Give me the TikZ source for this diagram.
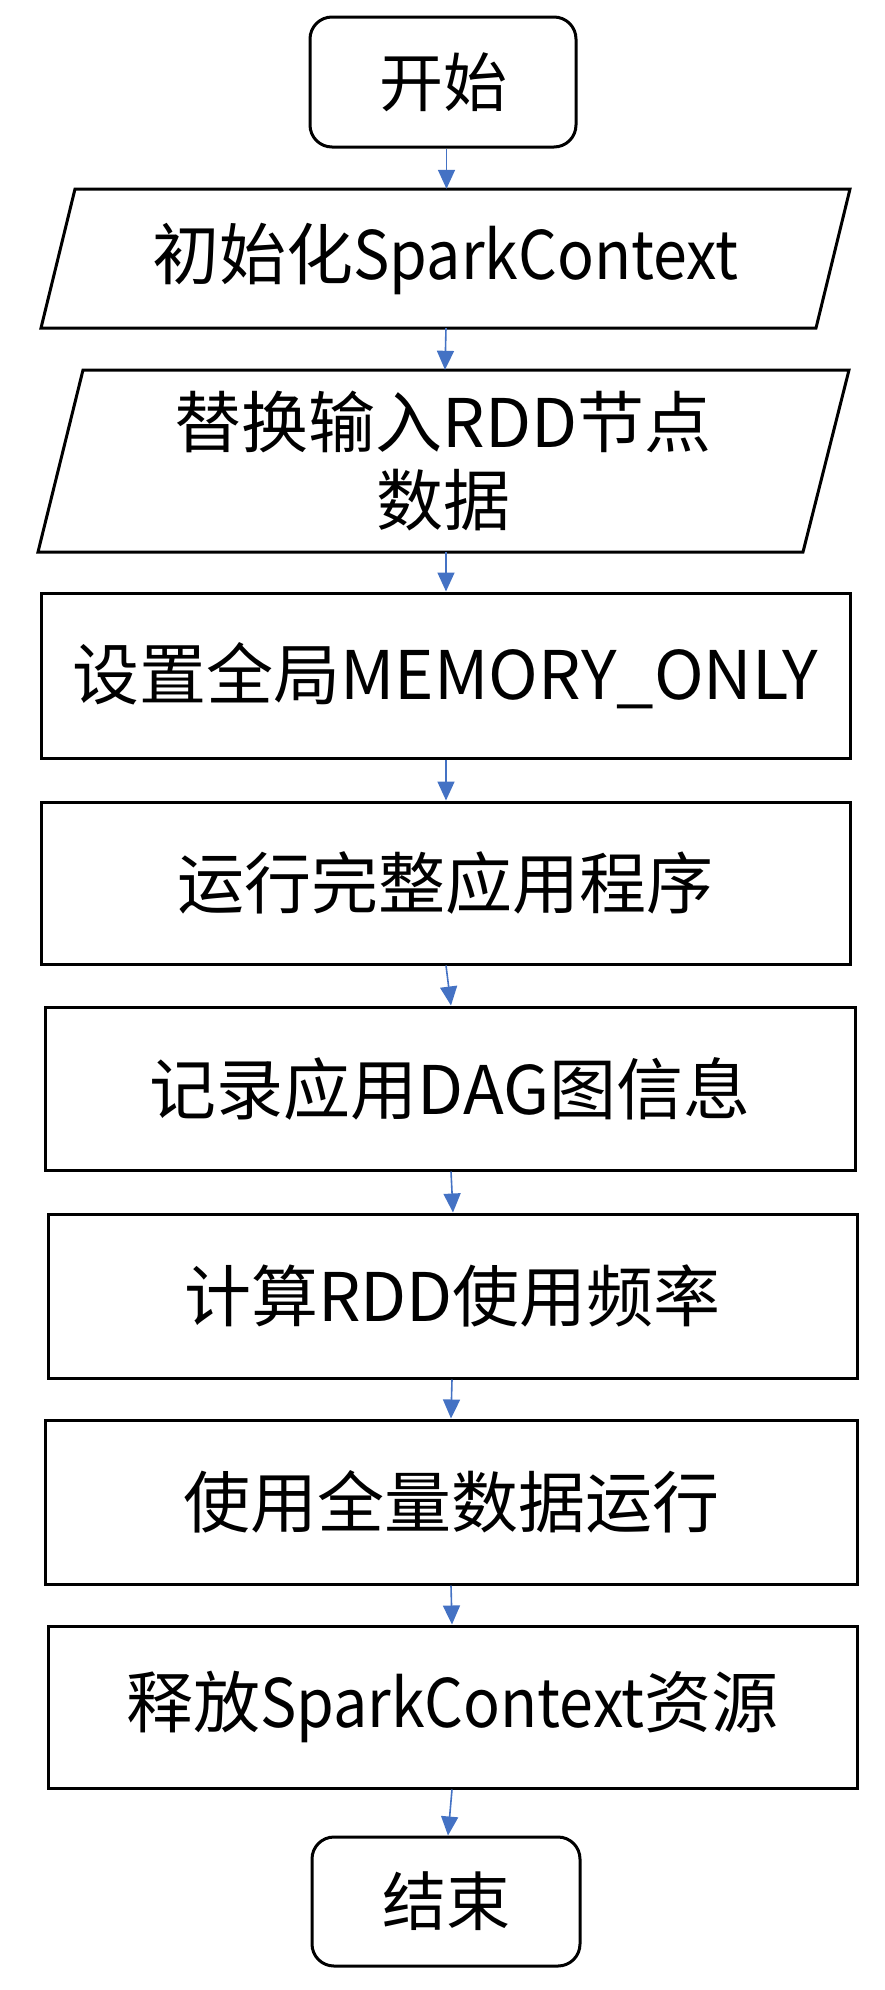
\documentclass[tikz,border=0pt]{standalone}
\usepackage{fontspec}
\setmainfont{Noto Sans CJK SC}
\newfontfamily\narrowlat{Noto Sans CJK SC}[FakeStretch=0.91]
\usetikzlibrary{arrows.meta}
\definecolor{arrowblue}{HTML}{4472C4}
\begin{document}
\begin{tikzpicture}[x=1pt,y=-1pt,
  shapeline/.style={draw=black,line width=3pt},
  box/.style={shapeline,inner sep=0pt,align=center,font=\fontsize{67}{78}\selectfont},
  term/.style={box,rounded corners=22pt,font=\fontsize{64}{76}\selectfont},
  ptext/.style={inner sep=0pt,align=center,font=\fontsize{67}{78}\selectfont},
  flow/.style={draw=arrowblue,line width=1.6pt,-{Triangle[length=19pt,width=17pt]}}]
\fill[white] (0,0) rectangle (884,1990);
\useasboundingbox (0,0) rectangle (884,1990);

% start
\node[term,minimum width=266pt,minimum height=130pt] (start) at (443,82) {开始};

% parallelogram 1
\draw[shapeline,line join=miter] (75,189) -- (850,189) -- (816,328) -- (41,328) -- cycle;
\node[ptext,minimum width=700pt,minimum height=139pt] (init) at (445.5,258.5) {初始化{\narrowlat SparkContext}};

% parallelogram 2
\draw[shapeline,line join=miter] (83,370) -- (849,370) -- (803,552) -- (38,552) -- cycle;
\node[ptext,minimum width=700pt,minimum height=182pt] (repl) at (443,461) {替换输入RDD节点\\数据};

% boxes
\node[box,minimum width=809pt,minimum height=165pt] (mem) at (445.5,675.5) {设置全局MEMORY\_ONLY};
\node[box,minimum width=809pt,minimum height=162pt] (run) at (445.5,883) {运行完整应用程序};
\node[box,minimum width=810pt,minimum height=163pt] (dag) at (450,1088.5) {记录应用DAG图信息};
\node[box,minimum width=809pt,minimum height=164pt] (freq) at (452.5,1296) {计算RDD使用频率};
\node[box,minimum width=812pt,minimum height=164pt] (full) at (451,1502) {使用全量数据运行};
\node[box,minimum width=809pt,minimum height=162pt] (rel) at (452.5,1707) {释放{\narrowlat SparkContext}资源};

% end
\node[term,minimum width=268pt,minimum height=129pt] (stop) at (446,1901.5) {结束};

% connectors
\draw[flow] ([xshift=3.5pt]start.south) -- ([xshift=1pt]init.north);
\draw[flow] ([xshift=0.5pt]init.south) -- ([xshift=2pt]repl.north);
\draw[flow] ([xshift=3pt]repl.south) -- ([xshift=0.5pt]mem.north);
\draw[flow] ([xshift=0.5pt]mem.south) -- ([xshift=0.5pt]run.north);
\draw[flow] ([xshift=0.5pt]run.south) -- ([xshift=1pt]dag.north);
\draw[flow] ([xshift=1pt]dag.south) -- ([xshift=0.5pt]freq.north);
\draw[flow] ([xshift=-0.5pt]freq.south) -- ([xshift=0pt]full.north);
\draw[flow] ([xshift=0pt]full.south) -- ([xshift=-0.5pt]rel.north);
\draw[flow] ([xshift=-0.5pt]rel.south) -- ([xshift=2pt]stop.north);
\end{tikzpicture}
\end{document}
